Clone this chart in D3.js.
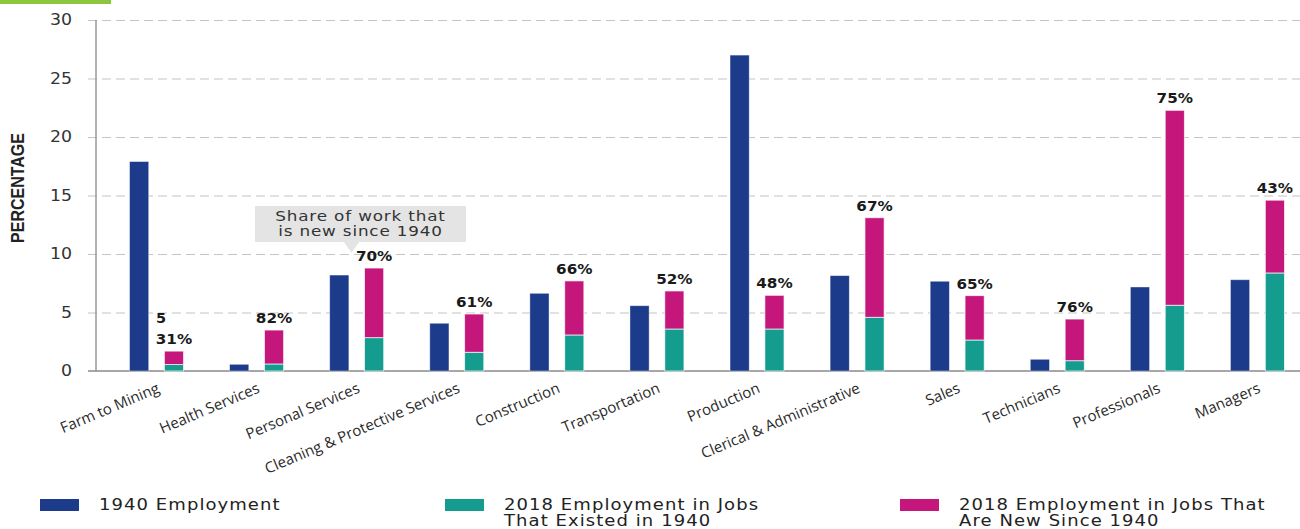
<!DOCTYPE html>
<html>
<head>
<meta charset="utf-8">
<script src="https://cdn.jsdelivr.net/npm/d3@7"></script>
<style>
  html, body { margin: 0; padding: 0; background: #fff; }
  svg { display: block; }
</style>
</head>
<body>
<svg id="chart" width="1300" height="529"></svg>
<script>
// Occupation groups, left to right
const categories = [
  "Farm to Mining", "Health Services", "Personal Services",
  "Cleaning & Protective Services", "Construction", "Transportation",
  "Production", "Clerical & Administrative", "Sales", "Technicians",
  "Professionals", "Managers"
];
// Share of employment (%) in 1940
const emp1940 = [17.9, 0.57, 8.2, 4.08, 6.64, 5.58, 27.0, 8.15, 7.67, 1.0, 7.18, 7.8];
// 2018 employment (%) in jobs that already existed in 1940
const existed2018 = [0.55, 0.6, 2.85, 1.6, 3.08, 3.59, 3.59, 4.59, 2.65, 0.88, 5.62, 8.38];
// 2018 employment (%) in jobs that are new since 1940
const new2018 = [1.15, 2.9, 5.95, 3.27, 4.62, 3.25, 2.88, 8.51, 3.79, 3.56, 16.66, 6.22];
// Share of 2018 work that is new since 1940
const newShareLabels = ["31%", "82%", "70%", "61%", "66%", "52%", "48%", "67%", "65%", "76%", "75%", "43%"];
const yTicks = [0, 5, 10, 15, 20, 25, 30];
const seriesNames = [
  ["1940 Employment"],
  ["2018 Employment in Jobs", "That Existed in 1940"],
  ["2018 Employment in Jobs That", "Are New Since 1940"]
];
const colors = { y1940: "#1d3b8b", existed: "#149d8e", fresh: "#c5177b" };

const svg = d3.select("#chart");

// Scales
const x = d3.scaleBand().domain(categories).range([106.5, 1307.5]).padding(0);
const x1 = d3.scaleBand().domain(["y1940", "y2018"]).range([-27, 27]).paddingInner(0.45);
const y = d3.scaleLinear().domain([0, 30]).range([371, 20]);

// Green accent strip at the top
svg.append("rect").attr("x", 0).attr("y", 0).attr("width", 111).attr("height", 4).attr("fill", "#8cc63e");

// Horizontal grid + y tick labels
const yAxis = d3.axisLeft(y).tickValues(yTicks).tickSize(-(1300 - 88)).tickPadding(16).tickFormat(d3.format("d"));
const gy = svg.append("g").attr("transform", "translate(88,0)").call(yAxis);
gy.select(".domain").remove();
gy.selectAll(".tick line")
  .attr("stroke", "#c4c4c4")
  .attr("stroke-width", 1.2)
  .attr("stroke-dasharray", d => d === 0 ? null : "9,5")
  .attr("opacity", d => d === 0 ? 0 : 1);
gy.selectAll(".tick text")
  .attr("fill", "#333")
  .attr("font-family", "DejaVu Sans, sans-serif")
  .attr("font-size", 15.5)
  .attr("text-anchor", "end")
  .attr("transform", function () {
    const px = +d3.select(this).attr("x");
    return `translate(${px},0) scale(1.12,1) translate(${-px},0)`;
  });

// Axis lines
svg.append("line").attr("x1", 96).attr("x2", 96).attr("y1", y(30)).attr("y2", y(0))
  .attr("stroke", "#8a8a8a").attr("stroke-width", 1.3);
svg.append("line").attr("x1", 88).attr("x2", 1300).attr("y1", y(0)).attr("y2", y(0))
  .attr("stroke", "#8a8a8a").attr("stroke-width", 1.5);

// Y axis title
svg.append("text")
  .attr("transform", "translate(24,188) scale(1.2,1) rotate(-90)")
  .attr("text-anchor", "middle")
  .attr("font-family", "Liberation Sans, Arial, sans-serif")
  .attr("font-weight", "bold")
  .attr("font-size", 16)
  .attr("fill", "#222")
  .text("PERCENTAGE");

// Bars
const rows = categories.map((c, i) => ({
  cat: c, v1940: emp1940[i], existed: existed2018[i], fresh: new2018[i], label: newShareLabels[i]
}));
const stack = d3.stack().keys(["existed", "fresh"]);
const stacked = stack(rows);

const groups = svg.append("g");
groups.selectAll("rect.b1940").data(rows).join("rect")
  .attr("class", "b1940")
  .attr("x", d => x(d.cat) + x.bandwidth() / 2 + x1("y1940"))
  .attr("width", x1.bandwidth())
  .attr("y", d => y(d.v1940))
  .attr("height", d => y(0) - y(d.v1940))
  .attr("fill", colors.y1940)
  .attr("stroke", "rgba(255,255,255,0.5)").attr("stroke-width", 0.8);

const layerColor = { existed: colors.existed, fresh: colors.fresh };
groups.selectAll("g.layer").data(stacked).join("g")
  .attr("class", "layer")
  .attr("fill", d => layerColor[d.key])
  .selectAll("rect").data(d => d).join("rect")
  .attr("x", d => x(d.data.cat) + x.bandwidth() / 2 + x1("y2018"))
  .attr("width", x1.bandwidth())
  .attr("y", d => y(d[1]))
  .attr("height", d => y(d[0]) - y(d[1]))
  .attr("stroke", "rgba(255,255,255,0.75)").attr("stroke-width", 0.9);

// Share-of-new labels above the 2018 bars
const lab = svg.append("g")
  .attr("font-family", "DejaVu Sans, sans-serif")
  .attr("font-weight", "bold")
  .attr("font-size", 14.5)
  .attr("fill", "#1a1a1a")
  .attr("text-anchor", "middle");
lab.selectAll("text").data(rows).join("text")
  .attr("transform", d => {
    const cx = x(d.cat) + x.bandwidth() / 2 + x1("y2018") + x1.bandwidth() / 2;
    return `translate(${cx},${y(d.existed + d.fresh) - 7}) scale(1.05,1)`;
  })
  .text(d => d.label);
// Stray value note above the first label
{
  const d = rows[0];
  const cx = x(d.cat) + x.bandwidth() / 2 + x1("y2018") + x1.bandwidth() / 2;
  svg.append("text")
    .attr("x", cx - 18).attr("y", y(d.existed + d.fresh) - 28)
    .attr("font-family", "DejaVu Sans, sans-serif")
    .attr("font-weight", "bold").attr("font-size", 14.5).attr("fill", "#1a1a1a")
    .text("5");
}

// Category labels
svg.append("g")
  .attr("font-family", "Open Sans, sans-serif")
  .attr("font-size", 15)
  .attr("fill", "#2a2a2a")
  .attr("text-anchor", "end")
  .selectAll("text").data(categories).join("text")
  .attr("transform", d => `translate(${x(d) + x.bandwidth() / 2 + 4},392) rotate(-23)`)
  .text(d => d);

// Callout box
const callout = svg.append("g");
callout.append("rect").attr("x", 255).attr("y", 206).attr("width", 211).attr("height", 36).attr("fill", "#e4e4e4");
callout.append("path").attr("d", "M343,241 L360,241 L351.7,252.7 Z").attr("fill", "#e4e4e4");
const calloutLines = ["Share of work that", "is new since 1940"];
callout.selectAll("text").data(calloutLines).join("text")
  .attr("transform", (d, i) => `translate(360.5,${221 + i * 14.7}) scale(1.2,1)`)
  .attr("text-anchor", "middle")
  .attr("font-family", "DejaVu Sans, sans-serif")
  .attr("font-size", 14)
  .attr("letter-spacing", 0.7)
  .attr("fill", "#333")
  .text(d => d);

// Legend
const legendX = [40, 445, 900];
const legendColors = [colors.y1940, colors.existed, colors.fresh];
const lg = svg.append("g");
seriesNames.forEach((lines, i) => {
  lg.append("rect").attr("x", legendX[i]).attr("y", 499).attr("width", 39).attr("height", 12)
    .attr("fill", legendColors[i]);
  lines.forEach((t, j) => {
    lg.append("text")
      .attr("transform", `translate(${legendX[i] + 59},${510 + j * 15.5}) scale(1.2,1)`)
      .attr("font-family", "DejaVu Sans, sans-serif")
      .attr("font-size", 15)
      .attr("letter-spacing", 0.9)
      .attr("fill", "#222")
      .text(t);
  });
});
</script>
</body>
</html>
